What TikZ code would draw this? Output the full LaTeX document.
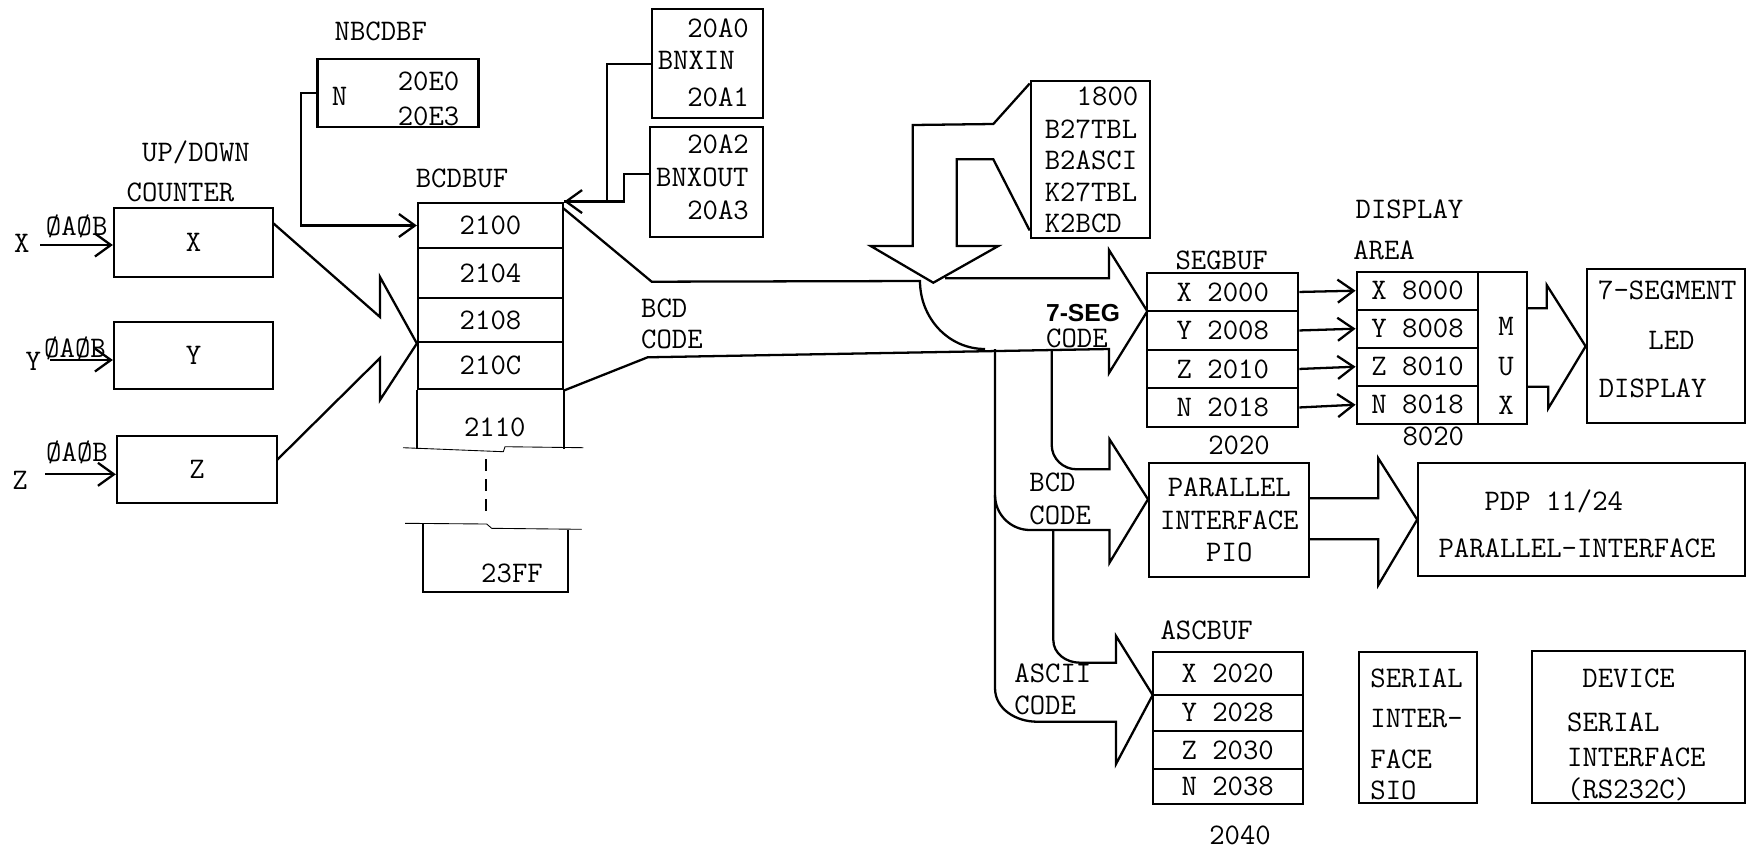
\documentclass[tikz,border=0pt]{standalone}
\usepackage{fontspec}
\newfontfamily\segfont{Liberation Sans}
\usetikzlibrary{arrows.meta,calc}
\begin{document}
\begin{tikzpicture}[x=0.02cm,y=-0.02cm,line width=1.3pt,
  >={Straight Barb[length=3.2mm,width=4.6mm]},
  font=\ttfamily\fontsize{17pt}{19.5pt}\selectfont,
  box/.style={draw,inner sep=0pt},
  txt/.style={inner sep=0pt}]
\useasboundingbox (0,0) rectangle (1747,853);

\node[txt] (ud) at (196,152.7) {UP/DOWN};
\node[txt] (ct) at (180.5,192.7) {COUNTER};
\node[box,minimum width=3.18cm,minimum height=1.38cm] (cX) at (193.5,242.5) {X};
\node[box,minimum width=3.18cm,minimum height=1.34cm] (cY) at (193.5,355.5) {Y};
\node[box,minimum width=3.2cm,minimum height=1.34cm] (cZ) at (197,469.5) {Z};
\node[txt] (iX) at (21.7,243) {X};
\node[txt] (iY) at (33.3,361.7) {Y};
\node[txt] (iZ) at (20,480) {Z};
\node[txt] (pX) at (76.7,226.7) {ØAØB};
\node[txt] (pY) at (75,348) {ØAØB};
\node[txt] (pZ) at (77,452) {ØAØB};
\coordinate (aX) at (40,245);
\coordinate (aY) at (50,360);
\coordinate (aZ) at (45,474.3);
\draw[->](aX)--(aX -| cX.west);
\draw[->](aY)--(aY -| cY.west);
\draw[->](aZ)--(aZ -| cZ.west);

\node[txt] (bl) at (462,178.3) {BCDBUF};
\node[box,minimum width=2.9cm,minimum height=0.912cm] (B1) at (490.5,225.5) {2100};
\node[box,minimum width=2.9cm,minimum height=0.988cm] (B2) at (490.5,273) {2104};
\node[box,minimum width=2.9cm,minimum height=0.892cm] (B3) at (490.5,320) {2108};
\node[box,minimum width=2.9cm,minimum height=0.94cm] (B4) at (490.5,365.8) {210C};
\node[txt] (B5) at (494.8,427.7) {2110};
\draw (B4.south west)--++(0,59) (B4.south east)--++(0,59);
\draw[line width=0.5pt] (403,447.7)--(503.3,451.7)--(505,446.7)--(583.3,447.7);
\draw[dashed,dash pattern=on 2.4mm off 1.6mm,line width=0.8pt] (486,459)--(486,515);
\draw[line width=0.5pt] (405,523.3)--(486.7,524)--(491.7,528.3)--(581.7,529.3);
\draw (423,524) |- (568,591.7)--(568,530);
\node[txt] (B6) at (512,573) {23FF};

\draw (273,223)--(380,317)--(380,277)--(B3.south west)--(380,400)--(380,358)--(277,460);

\node[txt] (nl) at (380.8,31.7) {NBCDBF};
\node[box,minimum width=3.216cm,minimum height=1.348cm] (N0) at (398,93) {};
\node[txt] (N1) at (339.6,96.7) {N};
\node[txt,align=center] (N2) at (428.6,98.9) {20E0\\[0.7pt]20E3};
\draw[->](N0.west)--++(-15.3,0) |- (B1.west);

\node[box,minimum width=2.22cm,minimum height=2.18cm] (X1) at (707.8,63.8) {};
\node[box,minimum width=2.254cm,minimum height=2.2cm] (X2) at (706.3,181.7) {};
\node[txt,anchor=east] (X1a) at (750,28.3) {20A0};
\node[txt,anchor=west] (X1b) at (656.7,60) {BNXIN};
\node[txt,anchor=east] (X1c) at (750,97.3) {20A1};
\node[txt,anchor=east] (X2a) at (750,144) {20A2};
\node[txt,anchor=west] (X2b) at (655,177.7) {BNXOUT};
\node[txt,anchor=east] (X2c) at (750,210) {20A3};
\draw[->](X1.west)--++(-44,0) |- (B1.north east);
\draw ($(X2.west)+(0,-8)$)--++(-25,0) |- (B1.north east);

\draw (563,208)--(651.7,281.7)--(920,281) to[out=-90,in=180] (985,349);
\draw (B4.south east)--(647.6,357.3)--(1109,349)--(1109,373)--(1147.3,311.2)--(1109,250)--(1109,278.3)--(945,278.3);
\node[txt,align=left,anchor=west] (K1) at (640,323.7) {BCD\\[-2.1pt]CODE};

\node[box,minimum width=2.386cm,minimum height=3.152cm] (T0) at (1090.4,159.5) {};
\node[txt,anchor=east] (T1) at (1139.4,96.7) {1800};
\node[txt,align=left,anchor=west] (T2) at (1043.7,175.9) {B27TBL\\[-1.5pt]B2ASCI\\[-1.5pt]K27TBL\\[-2pt]K2BCD};
\draw ($(T0.north west)+(0,4)$)--(993.3,124)--(912.7,125)--(912.7,246)--(870.7,246)--(933.3,282.7)--(998.3,246)--(956.7,246)--(956.7,159.3)--(993.3,159.3)--($(T0.south west)+(0,-9)$);

\node[txt,font=\segfont\bfseries\fontsize{14pt}{17pt}\selectfont] (K2) at (1083,313.3) {7-SEG};
\node[txt,anchor=west] (K3) at (1045,338.3) {CODE};

\node[txt] (sl) at (1221.7,260) {SEGBUF};
\node[box,minimum width=3.02cm,minimum height=0.77cm] (S1) at (1222.8,291.95) {X 2000};
\node[box,minimum width=3.02cm,minimum height=0.77cm] (S2) at (1222.8,330.45) {Y 2008};
\node[box,minimum width=3.02cm,minimum height=0.77cm] (S3) at (1222.8,368.95) {Z 2010};
\node[box,minimum width=3.02cm,minimum height=0.77cm] (S4) at (1222.8,407.45) {N 2018};
\node[txt] (s5) at (1239,445) {2020};

\node[txt] (dl) at (1409.5,209.3) {DISPLAY};
\node[txt] (dl2) at (1384,250.7) {AREA};
\node[box,minimum width=2.432cm,minimum height=0.76cm] (D1) at (1417.5,290.7) {X 8000};
\node[box,minimum width=2.432cm,minimum height=0.76cm] (D2) at (1417.5,328.7) {Y 8008};
\node[box,minimum width=2.432cm,minimum height=0.76cm] (D3) at (1417.5,366.7) {Z 8010};
\node[box,minimum width=2.432cm,minimum height=0.76cm] (D4) at (1417.5,404.7) {N 8018};
\node[box,minimum width=0.968cm,minimum height=3.04cm] (M0) at (1502.5,347.7) {};
\node[txt,align=center] (M1) at (1506,366) {M\\[2.9pt]U\\[2.9pt]X};
\node[txt] (d5) at (1433.3,436.7) {8020};
\foreach \i in {1,...,4} \draw[->](S\i.east)--(D\i.west);

\node[box,minimum width=3.166cm,minimum height=3.08cm] (L0) at (1665.9,346.3) {};
\node[txt,anchor=west] (L1) at (1597,290) {7-SEGMENT};
\node[txt] (L2) at (1671.5,340) {LED};
\node[txt] (L3) at (1652.6,388.3) {DISPLAY};
\draw (1526.7,308.3)--(1546.7,308.3)--(1546.7,285)--(L0.west)--(1548.3,408.3)--(1548.3,386.7)--(1526.7,386.7);

\node[box,minimum width=3.2cm,minimum height=2.268cm,align=center] (P0) at (1229.3,520) {PARALLEL\\[-1.1pt]INTERFACE\\[-1.1pt]PIO};
\node[box,minimum width=6.534cm,minimum height=2.254cm] (Q0) at (1581.65,519.65) {};
\node[txt] (Q1) at (1553.8,501.7) {PDP 11/24};
\node[txt] (Q2) at (1577,548.3) {PARALLEL-INTERFACE};
\draw (1309.3,498.3)--(1378.3,498.3)--(1378.3,458.3)--(Q0.west)--(1378.3,585)--(1378.3,539.3)--(1309.3,539.3);

\draw (1051.7,350)--(1051.7,445) to[out=-90,in=180] (1076.7,469.3)--(1109.5,469.3)--(1109.5,439.3)--(1148,499.3)--(1109.5,562.7)--(1109.5,530)--(1030,530) to[out=180,in=-90] (995,495);
\draw (995,349)--(995,688) to[out=-90,in=180] (1037,721.7)--(1116,721.7)--(1116,764)--(1152.7,695)--(1116,636)--(1116,662.7)--(1080,662.7) to[out=180,in=-90] (1053.3,640)--(1053.3,530);
\node[txt,align=left,anchor=west] (K4) at (1028.3,498.7) {BCD\\[-0.5pt]CODE};
\node[txt,align=left,anchor=west] (K5) at (1013.3,689.2) {ASCII\\[-1.5pt]CODE};

\node[txt] (al) at (1206.7,630.7) {ASCBUF};
\node[box,minimum width=3cm,minimum height=0.866cm] (A1) at (1227.7,673.35) {X 2020};
\node[box,minimum width=3cm,minimum height=0.714cm] (A2) at (1227.7,712.85) {Y 2028};
\node[box,minimum width=3cm,minimum height=0.772cm] (A3) at (1227.7,750) {Z 2030};
\node[box,minimum width=3cm,minimum height=0.694cm] (A4) at (1227.7,786.65) {N 2038};
\node[txt] (a5) at (1240,835) {2040};

\node[box,minimum width=2.36cm,minimum height=3.02cm] (R0) at (1418.3,727.2) {};
\node[txt,align=left,anchor=west] (R1) at (1369.3,734.5) {SERIAL\\[3.2pt]INTER-\\[3.7pt]FACE\\[-1.5pt]SIO};

\node[box,minimum width=4.266cm,minimum height=3.052cm] (V0) at (1638.35,727) {};
\node[txt] (V1) at (1628.6,678.3) {DEVICE};
\node[txt,align=left,anchor=west] (V2) at (1566,756.7) {SERIAL\\[0.3pt]INTERFACE\\[-1.5pt](RS232C)};

\end{tikzpicture}
\end{document}
